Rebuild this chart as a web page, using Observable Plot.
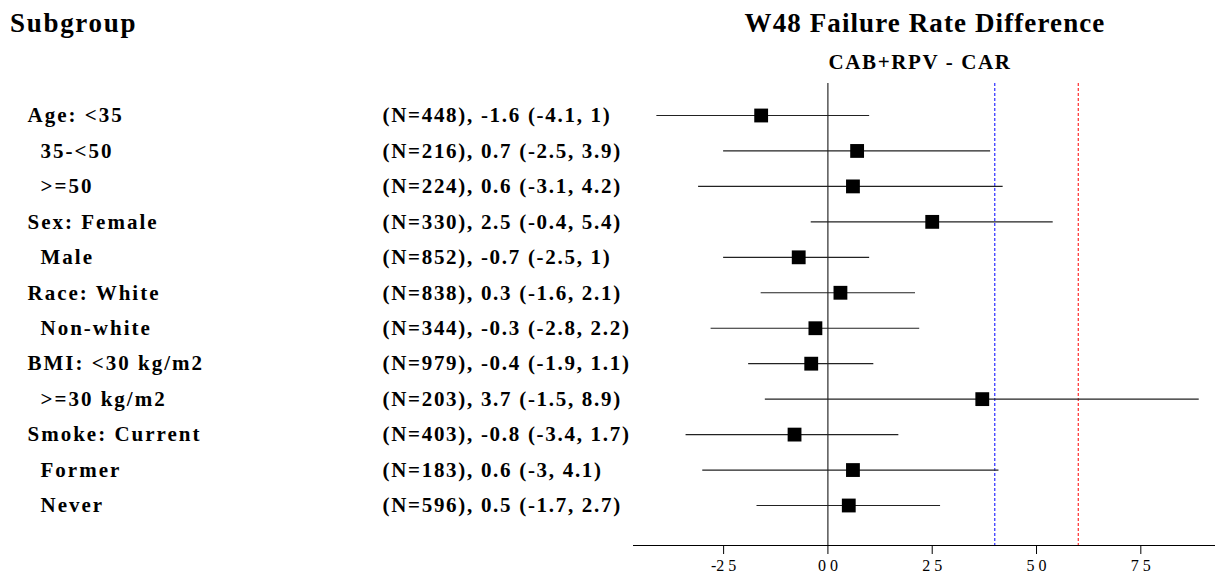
<!DOCTYPE html>
<html>
<head>
<meta charset="utf-8">
<script src="https://cdn.jsdelivr.net/npm/d3@7"></script>
<script src="https://cdn.jsdelivr.net/npm/@observablehq/plot@0.6"></script>
<style>
  html, body { margin: 0; padding: 0; background: #fff; }
  #page { position: relative; width: 1215px; height: 581px; font-family: "Liberation Serif", "Times New Roman", serif; color: #000; }
  #header { position: relative; width: 1215px; height: 80px; }
  .h { position: absolute; font-weight: bold; white-space: nowrap; line-height: 1; }
  #t1 { left: 10px; top: 10px; font-size: 27px; letter-spacing: 1.7px; }
  #t2 { left: 925px; top: 10px; font-size: 27px; transform: translateX(-50%); letter-spacing: 1.1px; }
  #t3 { left: 920px; top: 52px; font-size: 21px; transform: translateX(-50%); letter-spacing: 1.6px; }
  #chart svg { display: block; }
</style>
</head>
<body>
<div id="page">
  <div id="header">
    <div class="h" id="t1">Subgroup</div>
    <div class="h" id="t2">W48 Failure Rate Difference</div>
    <div class="h" id="t3">CAB+RPV - CAR</div>
  </div>
  <div id="chart"></div>
</div>
<script>
// ---- data ----
const labels = ["Age: <35", "35-<50", ">=50", "Sex: Female", "Male", "Race: White", "Non-white",
                "BMI: <30 kg/m2", ">=30 kg/m2", "Smoke: Current", "Former", "Never"];
const isMain = [true, false, false, true, false, true, false, true, false, true, false, false];
const nValues = [448, 216, 224, 330, 852, 838, 344, 979, 203, 403, 183, 596];
const estimates = [-1.6, 0.7, 0.6, 2.5, -0.7, 0.3, -0.3, -0.4, 3.7, -0.8, 0.6, 0.5];
const lower = [-4.1, -2.5, -3.1, -0.4, -2.5, -1.6, -2.8, -1.9, -1.5, -3.4, -3, -1.7];
const upper = [1, 3.9, 4.2, 5.4, 1, 2.1, 2.2, 1.1, 8.9, 1.7, 4.1, 2.7];
const tickValues = [-2.5, 0, 2.5, 5, 7.5];
const tickLabels = ["-2 5", "0 0", "2 5", "5 0", "7 5"];
const refLines = [{x: 4, color: "blue"}, {x: 6, color: "red"}];

const rows = labels.map((label, i) => ({
  label, main: isMain[i], n: nValues[i], est: estimates[i], lo: lower[i], hi: upper[i],
  stat: `(N=${nValues[i]}), ${estimates[i]} (${lower[i]}, ${upper[i]})`
}));

const ML = 633;
const font = "Liberation Serif, Times New Roman, serif";

const chart = Plot.plot({
  width: 1215,
  height: 501,
  marginLeft: ML,
  marginRight: 0,
  marginTop: 3,
  marginBottom: 36,
  style: {fontFamily: font, background: "#fff", color: "#000", overflow: "visible"},
  x: {domain: [-4.66, 9.29], label: null},
  y: {type: "point", domain: labels, range: [35, 425], padding: 0, round: false, axis: null},
  marks: [
    Plot.frame({anchor: "bottom", stroke: "#000", strokeWidth: 1}),
    Plot.ruleX([0], {stroke: "#000", strokeWidth: 1}),
    Plot.ruleX(refLines, {x: "x", stroke: "color", strokeWidth: 1, strokeDasharray: "3,2"}),
    Plot.ruleY(rows, {y: "label", x1: "lo", x2: "hi", stroke: "#222", strokeWidth: 1.2}),
    Plot.dot(rows, {x: "est", y: "label", symbol: "square", r: 7.8, fill: "#000", stroke: "none"}),
    Plot.text(rows.filter(d => d.main), {y: "label", text: "label", frameAnchor: "left", dx: 27 - ML, textAnchor: "start", fontSize: 21, fontWeight: "bold"}),
    Plot.text(rows.filter(d => !d.main), {y: "label", text: "label", frameAnchor: "left", dx: 40 - ML, textAnchor: "start", fontSize: 21, fontWeight: "bold"}),
    Plot.text(rows, {y: "label", text: "stat", frameAnchor: "left", dx: 382 - ML, textAnchor: "start", fontSize: 21, fontWeight: "bold"}),
    Plot.axisX({ticks: tickValues, tickFormat: d => tickLabels[tickValues.indexOf(d)], tickSize: 9, tickPadding: 5, fontSize: 16, label: null})
  ]
});
// loosen the letter spacing of the row texts as in the reference
const textGroups = chart.querySelectorAll('g[aria-label="text"]');
const spacings = ["2px", "2px", "1.7px"];
textGroups.forEach((g, i) => { g.style.letterSpacing = spacings[i] || "0px"; });
document.getElementById("chart").appendChild(chart);
</script>
</body>
</html>
